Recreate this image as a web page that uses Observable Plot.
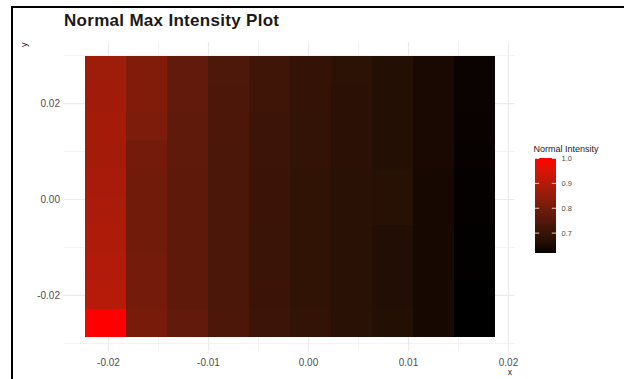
<!DOCTYPE html>
<html>
<head>
<meta charset="utf-8">
<script src="https://cdn.jsdelivr.net/npm/d3@7"></script>
<script src="https://cdn.jsdelivr.net/npm/@observablehq/plot@0.6"></script>
<style>
  body { margin: 0; background: #fff; font-family: "Liberation Sans", Arial, sans-serif; }
  #wrap { position: relative; width: 624px; height: 379px; overflow: hidden; background: #fff; }
  #frame { position: absolute; left: 11px; top: 6px; width: 700px; height: 500px;
           border-top: 2px solid #000; border-left: 2px solid #000; pointer-events: none; }
  #title { position: absolute; left: 64px; top: 11px; font-weight: bold; font-size: 17px;
           letter-spacing: 0.3px; color: #1a1a1a; }
  #main, #legend { position: absolute; top: 0; }
  #main { left: 0; }
  #legend { left: 527px; top: 140px; }
  svg { overflow: visible; }
</style>
</head>
<body>
<div id="wrap">
  <div id="main"></div>
  <div id="legend"></div>
  <div id="title">Normal Max Intensity Plot</div>
  <div id="frame"></div>
</div>
<script>
// Tile centres on the x and y grid
const xCenters = [-0.0203, -0.0162, -0.0121, -0.0080, -0.0039, 0.0002, 0.0043, 0.0084, 0.0125, 0.0166];
const yCenters = [0.0268, 0.0210, 0.0151, 0.0093, 0.0034, -0.0024, -0.0083, -0.0141, -0.0200, -0.0258];

// Normal intensity, one row per y centre (top to bottom), columns left to right
const row0 = [0.862, 0.820, 0.770, 0.738, 0.713, 0.694, 0.680, 0.664, 0.646, 0.627];
const row1 = [0.868, 0.820, 0.770, 0.735, 0.713, 0.694, 0.679, 0.664, 0.646, 0.626];
const row2 = [0.872, 0.815, 0.768, 0.735, 0.711, 0.693, 0.678, 0.663, 0.644, 0.625];
const row3 = [0.874, 0.800, 0.768, 0.734, 0.709, 0.692, 0.678, 0.663, 0.644, 0.624];
const row4 = [0.878, 0.795, 0.767, 0.733, 0.707, 0.690, 0.676, 0.672, 0.643, 0.622];
const row5 = [0.882, 0.795, 0.766, 0.733, 0.706, 0.690, 0.675, 0.672, 0.642, 0.621];
const row6 = [0.888, 0.795, 0.766, 0.732, 0.705, 0.690, 0.675, 0.662, 0.642, 0.620];
const row7 = [0.893, 0.800, 0.766, 0.732, 0.705, 0.690, 0.675, 0.662, 0.641, 0.620];
const row8 = [0.898, 0.800, 0.767, 0.733, 0.706, 0.690, 0.676, 0.662, 0.642, 0.619];
const row9 = [1.000, 0.808, 0.770, 0.735, 0.708, 0.692, 0.677, 0.663, 0.643, 0.618];
const intensityRows = [row0, row1, row2, row3, row4, row5, row6, row7, row8, row9];

const xTicks = [-0.02, -0.01, 0.00, 0.01, 0.02];
const xMinor = [-0.015, -0.005, 0.005, 0.015];
const yTicks = [-0.02, 0.00, 0.02];
const yMinor = [-0.03, -0.01, 0.01, 0.03];
const legendTicks = [0.7, 0.8, 0.9, 1.0];

// Tile edges sit halfway between neighbouring centres
function edges(centers) {
  const out = [];
  for (let i = 0; i < centers.length; i++) {
    const prev = i > 0 ? centers[i - 1] : 2 * centers[0] - centers[1];
    const next = i < centers.length - 1 ? centers[i + 1] : 2 * centers[i] - centers[i - 1];
    out.push([(prev + centers[i]) / 2, (centers[i] + next) / 2]);
  }
  return out;
}
const xEdges = edges(xCenters);
const yEdges = edges(yCenters);

const cells = [];
intensityRows.forEach((row, j) => row.forEach((v, i) => cells.push({
  x1: xEdges[i][0], x2: xEdges[i][1], y1: yEdges[j][0], y2: yEdges[j][1], v
})));

const extent = d3.extent(cells, d => d.v);
const colorScale = {type: "linear", domain: extent, range: ["black", "red"], interpolate: "lab"};
const fmt = d => d.toFixed(2);
const axisColor = "#4d4d4d";
const gridColor = "#ebebeb";
const font = "'Liberation Sans', Arial, sans-serif";

const main = Plot.plot({
  width: 624, height: 379,
  marginLeft: 63.5, marginRight: 109.5, marginTop: 42, marginBottom: 28,
  style: {fontFamily: font, background: "transparent"},
  x: {domain: [-0.02445, 0.02065]},
  y: {domain: [-0.03168, 0.03272]},
  color: colorScale,
  marks: [
    Plot.ruleX(xMinor, {stroke: gridColor, strokeWidth: 0.6}),
    Plot.ruleY(yMinor, {stroke: gridColor, strokeWidth: 0.6}),
    Plot.ruleX(xTicks, {stroke: gridColor, strokeWidth: 1.2}),
    Plot.ruleY(yTicks, {stroke: gridColor, strokeWidth: 1.2}),
    Plot.rect(cells, {x1: "x1", x2: "x2", y1: "y1", y2: "y2", fill: "v", shapeRendering: "crispEdges"}),
    Plot.axisX({ticks: xTicks, tickFormat: fmt, tickSize: 0, tickPadding: 7, fontSize: 10, color: axisColor, label: null}),
    Plot.axisY({ticks: yTicks, tickFormat: fmt, tickSize: 0, tickPadding: 4, fontSize: 10, color: axisColor, label: null}),
    Plot.text(["x"], {frameAnchor: "bottom-right", dy: 23.5, dx: -3, text: d => d, fontSize: 8.5, fill: "#1a1a1a"}),
    Plot.text(["y"], {frameAnchor: "top-left", dx: -43, textAnchor: "end", rotate: -90, text: d => d, fontSize: 9, fill: "#1a1a1a"})
  ]
});
document.getElementById("main").append(main);

// Vertical colour bar for the fill scale
const nStrips = 100;
const step = (extent[1] - extent[0]) / nStrips;
const strips = d3.range(nStrips).map(k => extent[0] + k * step);

const legend = Plot.plot({
  width: 97, height: 125,
  marginLeft: 8, marginRight: 68, marginTop: 18, marginBottom: 12,
  style: {fontFamily: font, background: "transparent"},
  x: {domain: [0, 1], axis: null},
  y: {domain: extent},
  color: colorScale,
  marks: [
    Plot.rect(strips, {x1: 0, x2: 1, y1: d => d, y2: d => d + step, fill: d => d + step / 2, shapeRendering: "crispEdges"}),
    Plot.ruleY(legendTicks, {x1: 0, x2: 0.2, stroke: "white", strokeWidth: 0.8}),
    Plot.ruleY(legendTicks, {x1: 0.8, x2: 1, stroke: "white", strokeWidth: 0.8}),
    Plot.axisY({anchor: "right", ticks: legendTicks, tickFormat: d => d.toFixed(1), tickSize: 0, tickPadding: 5, fontSize: 7.5, color: axisColor, label: null}),
    Plot.text(["Normal Intensity"], {frameAnchor: "top-left", dy: -13, dx: -2, textAnchor: "start", text: d => d, fontSize: 9, fill: "#1a1a1a"})
  ]
});
document.getElementById("legend").append(legend);
</script>
</body>
</html>
